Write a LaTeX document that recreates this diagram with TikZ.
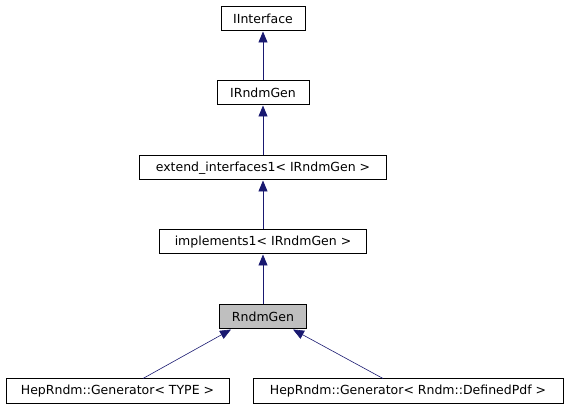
\documentclass[tikz,border=0pt]{standalone}
\usepackage{fontspec}
\setmainfont{DejaVu Sans}
\usepackage{tikz}
\usetikzlibrary{arrows.meta, positioning, calc}
\definecolor{edgeblue}{RGB}{25, 25, 112}
\definecolor{curgray}{RGB}{191, 191, 191}

\begin{document}
\begin{tikzpicture}[
    x=1pt, y=-1pt,
    box/.style={rectangle, draw, line width=1pt, minimum height=24pt, inner sep=0pt, align=center, font=\fontsize{12.5}{14}\selectfont},
    arrow/.style={-{Triangle[length=11pt, width=9pt]}, edgeblue, line width=0.9pt}
]
    \useasboundingbox (0,0) rectangle (568,411);
    % base classes
    \node[box, minimum width=84pt] (iif) at (263, 19) {IInterface};
    \node[box, minimum width=92pt] (irg) at (263, 93) {IRndmGen};
    \node[box, minimum width=247pt] (ext) at (263, 168) {extend\_interfaces1\textless{} IRndmGen \textgreater{}};
    \node[box, minimum width=207pt] (imp) at (263, 242) {implements1\textless{} IRndmGen \textgreater{}};
    % the class itself
    \node[box, fill=curgray, minimum width=87pt] (rg) at (263, 317) {RndmGen};
    % derived
    \node[box, minimum width=223pt, minimum height=25pt] (gtype) at (117.5, 391.5) {HepRndm::Generator\textless{} TYPE \textgreater{}};
    \node[box, minimum width=310pt, minimum height=25pt] (gpdf) at (408, 391.5) {HepRndm::Generator\textless{} Rndm::DefinedPdf \textgreater{}};

    \draw[arrow] (irg) -- (iif);
    \draw[arrow] (ext) -- (irg);
    \draw[arrow] (imp) -- (ext);
    \draw[arrow] (rg) -- (imp);
    \draw[arrow, line width=0.6pt] ($(gtype.north)+(25.5,0)$) -- ($(rg.south)+(-32,0)$);
    \draw[arrow, line width=0.6pt] ($(gpdf.north)+(-25,0)$) -- ($(rg.south)+(30,0)$);
\end{tikzpicture}
\end{document}
